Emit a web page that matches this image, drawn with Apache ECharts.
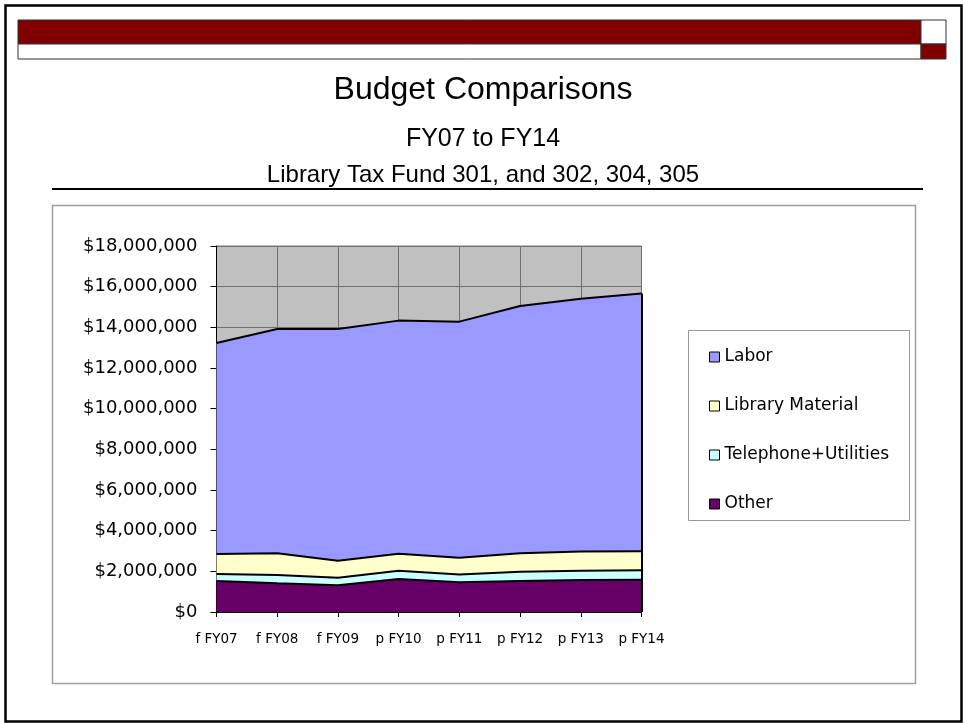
<!DOCTYPE html>
<html>
<head>
<meta charset="utf-8">
<script src="https://cdn.jsdelivr.net/npm/echarts@6/dist/echarts.min.js"></script>
<style>html,body{margin:0;padding:0;background:#fff}#c{width:964px;height:723px}</style>
</head>
<body>
<div id="c"></div>
<script>
var categories = ['f FY07','f FY08','f FY09','p FY10','p FY11','p FY12','p FY13','p FY14'];
var labor = [10380000, 11030000, 11400000, 11460000, 11610000, 12160000, 12430000, 12670000];
var libraryMaterial = [980000, 1070000, 830000, 840000, 820000, 910000, 940000, 940000];
var telephoneUtilities = [350000, 410000, 380000, 410000, 390000, 460000, 460000, 460000];
var other = [1520000, 1410000, 1310000, 1620000, 1460000, 1520000, 1570000, 1590000];
var yTicks = {min: 0, max: 18000000, interval: 2000000};
var titleLines = ['Budget Comparisons', 'FY07 to FY14', 'Library Tax Fund 301, and 302, 304, 305'];

var chart = echarts.init(document.getElementById('c'), null, {renderer: 'canvas'});

function money(v) {
  return '$' + String(v).replace(/\B(?=(\d{3})+(?!\d))/g, ',');
}

function areaSeries(name, data, color) {
  return {
    name: name, type: 'line', stack: 'total', data: data,
    symbol: 'none', showSymbol: false,
    lineStyle: {color: '#000', width: 2},
    areaStyle: {color: color, opacity: 1},
    itemStyle: {color: color, borderColor: '#000', borderWidth: 1},
    emphasis: {disabled: true}
  };
}

var last = categories.length - 1;
var lastTotal = labor[last] + libraryMaterial[last] + telephoneUtilities[last] + other[last];

var textFont = 'DejaVu Sans';
var titleFont = '"Liberation Sans", Arial, sans-serif';

var laborSeries = areaSeries('Labor', labor, '#9999FF');
laborSeries.markLine = {
  silent: true, symbol: 'none', label: {show: false},
  lineStyle: {color: '#000', width: 2, type: 'solid'},
  data: [[{coord: [categories[last], 0]}, {coord: [categories[last], lastTotal]}]]
};

chart.setOption({
  animation: false,
  backgroundColor: '#fff',
  grid: {left: 216.5, top: 246, width: 425, height: 366, show: true,
         backgroundColor: '#C0C0C0', borderColor: '#808080', borderWidth: 1},
  xAxis: {
    type: 'category', data: categories, boundaryGap: false,
    axisLine: {lineStyle: {color: '#000', width: 1}},
    axisTick: {show: true, length: 5, interval: 0, lineStyle: {color: '#000'}},
    axisLabel: {color: '#000', fontFamily: textFont, fontSize: 13.5, margin: 20, interval: 0},
    splitLine: {show: true, interval: 0, lineStyle: {color: '#707070', width: 1}}
  },
  yAxis: {
    type: 'value', min: yTicks.min, max: yTicks.max, interval: yTicks.interval,
    axisLine: {show: true, lineStyle: {color: '#000', width: 1}},
    axisTick: {show: true, length: 6, lineStyle: {color: '#000'}},
    axisLabel: {color: '#000', fontFamily: textFont, fontSize: 18, margin: 19, formatter: money},
    splitLine: {show: true, lineStyle: {color: '#707070', width: 1}}
  },
  legend: {
    data: ['Labor', 'Library Material', 'Telephone+Utilities', 'Other'],
    orient: 'vertical', left: 709, top: 348, padding: 0,
    itemWidth: 10, itemHeight: 10, itemGap: 31, icon: 'rect',
    itemStyle: {borderColor: '#000', borderWidth: 1},
    textStyle: {color: '#000', fontFamily: textFont, fontSize: 17, lineHeight: 18}
  },
  series: [
    areaSeries('Other', other, '#660066'),
    areaSeries('Telephone+Utilities', telephoneUtilities, '#CCFFFF'),
    areaSeries('Library Material', libraryMaterial, '#FFFFCC'),
    laborSeries
  ],
  graphic: [
    {type: 'rect', shape: {x: 5.5, y: 5.5, width: 956, height: 716}, style: {fill: 'none', stroke: '#000', lineWidth: 2.5}, silent: true},
    {type: 'rect', shape: {x: 18, y: 20, width: 903, height: 24}, style: {fill: '#800000', stroke: '#333', lineWidth: 1}, silent: true},
    {type: 'rect', shape: {x: 18, y: 44, width: 903, height: 15}, style: {fill: '#fff', stroke: '#333', lineWidth: 1}, silent: true},
    {type: 'rect', shape: {x: 921, y: 20, width: 25, height: 24}, style: {fill: '#fff', stroke: '#333', lineWidth: 1}, silent: true},
    {type: 'rect', shape: {x: 921, y: 44, width: 25, height: 15}, style: {fill: '#800000', stroke: '#333', lineWidth: 1}, silent: true},
    {type: 'text', x: 483, y: 90, style: {text: titleLines[0], font: '32px ' + titleFont, fill: '#000', textAlign: 'center', textVerticalAlign: 'middle'}, silent: true},
    {type: 'text', x: 483, y: 139, style: {text: titleLines[1], font: '25px ' + titleFont, fill: '#000', textAlign: 'center', textVerticalAlign: 'middle'}, silent: true},
    {type: 'text', x: 483, y: 175, style: {text: titleLines[2], font: '24px ' + titleFont, fill: '#000', textAlign: 'center', textVerticalAlign: 'middle'}, silent: true},
    {type: 'line', shape: {x1: 52, y1: 189, x2: 923, y2: 189}, style: {stroke: '#000', lineWidth: 2}, silent: true},
    {type: 'rect', shape: {x: 52.5, y: 205.5, width: 863, height: 478}, style: {fill: 'none', stroke: '#A0A0A0', lineWidth: 1.5}, silent: true, z: -1},
    {type: 'rect', shape: {x: 688.5, y: 330.5, width: 221, height: 190}, style: {fill: 'none', stroke: '#999', lineWidth: 1}, silent: true}
  ]
});
</script>
</body>
</html>
